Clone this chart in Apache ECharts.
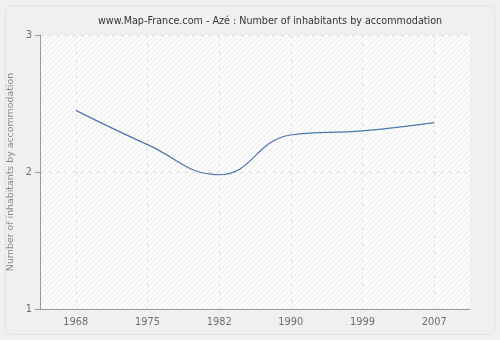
<!DOCTYPE html>
<html style="height: 100%">
<head>
    <meta charset="utf-8">
    <title>ECharts</title>
    <script src="https://cdn.jsdelivr.net/npm/echarts@6/dist/echarts.min.js"></script>
</head>
<body style="height: 100%; margin: 0">
<div id="main" style="width: 500px; height: 340px"></div>
<script type="text/javascript">
    var years = ['1968', '1975', '1982', '1990', '1999', '2007'];
    var inhabitants = [2.45, 2.2, 1.98, 2.27, 2.3, 2.36];
    var yTicks = [1, 2, 3];

    // light diagonal hatch for the plot area
    function hatch() {
        var c = document.createElement('canvas');
        c.width = 5; c.height = 5;
        var ctx = c.getContext('2d');
        ctx.fillStyle = '#fcfcfc';
        ctx.fillRect(0, 0, 5, 5);
        ctx.strokeStyle = '#eaeaea';
        ctx.lineWidth = 1;
        ctx.beginPath();
        ctx.moveTo(0, 5); ctx.lineTo(5, 0);
        ctx.moveTo(-2.5, 2.5); ctx.lineTo(2.5, -2.5);
        ctx.moveTo(2.5, 7.5); ctx.lineTo(7.5, 2.5);
        ctx.stroke();
        return c;
    }

    var font = 'DejaVu Sans';
    var myChart = echarts.init(document.getElementById('main'));
    var option = {
        backgroundColor: '#f0f0f0',
        animation: false,
        graphic: [{
            type: 'rect',
            shape: { x: 5.5, y: 5.5, width: 489, height: 329, r: 6 },
            style: { fill: 'none', stroke: '#e2e2e2', lineWidth: 1 },
            z: -1
        }],
        title: {
            text: 'www.Map-France.com - Azé : Number of inhabitants by accommodation',
            left: 93,
            top: 11,
            textStyle: {
                fontFamily: font,
                fontSize: 9.6,
                fontWeight: 'normal',
                color: '#333'
            }
        },
        grid: {
            left: 40,
            right: 30,
            top: 35,
            bottom: 31,
            outerBoundsMode: 'none',
            containLabel: false,
            show: true,
            borderWidth: 0,
            backgroundColor: { image: hatch(), repeat: 'repeat' }
        },
        xAxis: {
            type: 'category',
            data: years,
            boundaryGap: true,
            axisLine: { lineStyle: { color: '#999' } },
            axisTick: { alignWithLabel: true, length: 5, lineStyle: { color: '#999' } },
            axisLabel: { color: '#6f6f6f', fontFamily: font, fontSize: 9.8, margin: 8 },
            splitLine: { show: true, interval: 0, alignWithLabel: true, lineStyle: { color: '#e2e2e2', type: [4, 4] } }
        },
        yAxis: {
            type: 'value',
            min: yTicks[0],
            max: yTicks[yTicks.length - 1],
            interval: 1,
            name: 'Number of inhabitants by accommodation',
            nameLocation: 'middle',
            nameGap: 22,
            nameTextStyle: { color: '#888', fontFamily: font, fontSize: 9.4 },
            axisLine: { show: true, lineStyle: { color: '#999' } },
            axisTick: { show: true, length: 5, lineStyle: { color: '#999' } },
            axisLabel: { color: '#6f6f6f', fontFamily: font, fontSize: 9.8, margin: 8 },
            splitLine: { show: true, lineStyle: { color: '#e2e2e2', type: [4, 4] } }
        },
        series: [{
            name: 'Inhabitants',
            type: 'line',
            data: inhabitants,
            smooth: 0.45,
            symbol: 'none',
            lineStyle: { color: '#4a76ad', width: 1.2 }
        }]
    };
    myChart.setOption(option);
</script>
</body>
</html>
